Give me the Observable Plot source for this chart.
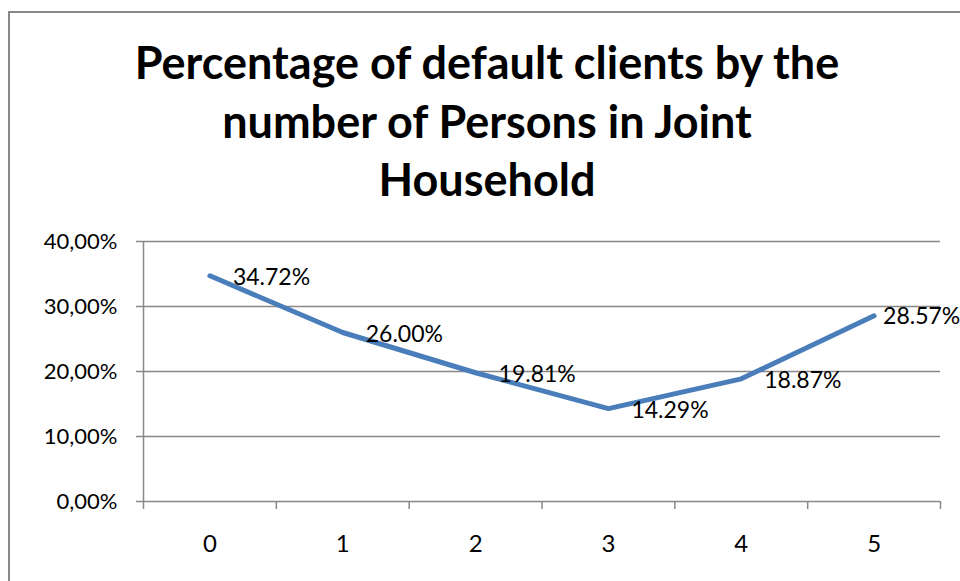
<!DOCTYPE html>
<html>
<head>
<meta charset="utf-8">
<script src="https://cdn.jsdelivr.net/npm/d3@7"></script>
<script src="https://cdn.jsdelivr.net/npm/@observablehq/plot@0.6"></script>
<style>
  html, body { margin: 0; padding: 0; background: #fff; overflow: hidden; }
  #wrap { position: relative; width: 960px; height: 581px; overflow: hidden; background: #fff; }
  #frame { position: absolute; left: 8px; top: 11px; width: 1000px; height: 700px; border-left: 2px solid #888; border-top: 2px solid #888; box-sizing: border-box; }
  #title { position: absolute; left: 7px; top: 33px; width: 960px; text-align: center; font-family: Lato, sans-serif; font-weight: bold; font-size: 45px; line-height: 58.5px; color: #000; }
  #chart { position: absolute; left: 0; top: 225px; }
</style>
</head>
<body>
<div id="wrap">
  <div id="frame"></div>
  <div id="title">Percentage of default clients by the<br>number of Persons in Joint<br>Household</div>
  <div id="chart"></div>
</div>
<script>
const categories = [0, 1, 2, 3, 4, 5];
const values = [0.3472, 0.2600, 0.1981, 0.1429, 0.1887, 0.2857];
const labels = ["34.72%", "26.00%", "19.81%", "14.29%", "18.87%", "28.57%"];
const yTicks = [0, 0.1, 0.2, 0.3, 0.4];
const yTickLabels = ["0,00%", "10,00%", "20,00%", "30,00%", "40,00%"];
const xBoundaries = [-0.5, 0.5, 1.5, 2.5, 3.5, 4.5, 5.5];

const data = categories.map((c, i) => ({cat: c, value: values[i], label: labels[i]}));
const gray = "#888888";

const chart = Plot.plot({
  width: 960,
  height: 356,
  marginTop: 16,
  marginBottom: 80,
  marginLeft: 143,
  marginRight: 20,
  style: {fontFamily: "Lato, sans-serif", color: "#000", background: "transparent"},
  x: {domain: [-0.5, 5.5]},
  y: {domain: [0, 0.4]},
  marks: [
    Plot.gridY(yTicks, {stroke: gray, strokeOpacity: 1, strokeWidth: 1.5}),
    Plot.axisY(yTicks, {tickSize: 7, tickPadding: 19, stroke: gray, strokeWidth: 1.5, fontSize: 22,
      tickFormat: (d) => yTickLabels[yTicks.indexOf(d)], label: null}),
    Plot.ruleX([-0.5], {y1: 0, y2: 0.4, stroke: gray, strokeWidth: 1.5}),
    Plot.axisX(xBoundaries, {tickSize: 8, stroke: gray, strokeWidth: 1.5, tickFormat: () => "", label: null}),
    Plot.axisX(categories, {tickSize: 0, tickPadding: 33, fontSize: 24, tickFormat: (d) => String(d), label: null}),
    Plot.line(data, {x: "cat", y: "value", stroke: "#4A7EBB", strokeWidth: 5, strokeLinecap: "round", strokeLinejoin: "round"}),
    Plot.text(data.slice(0, 5), {x: "cat", y: "value", text: "label", textAnchor: "start", dx: 23, dy: 2, fontSize: 23, fill: "#000"}),
    Plot.text(data.slice(5), {x: "cat", y: "value", text: "label", textAnchor: "start", dx: 9, dy: 1, fontSize: 23, fill: "#000"})
  ]
});
document.getElementById("chart").appendChild(chart);
</script>
</body>
</html>
